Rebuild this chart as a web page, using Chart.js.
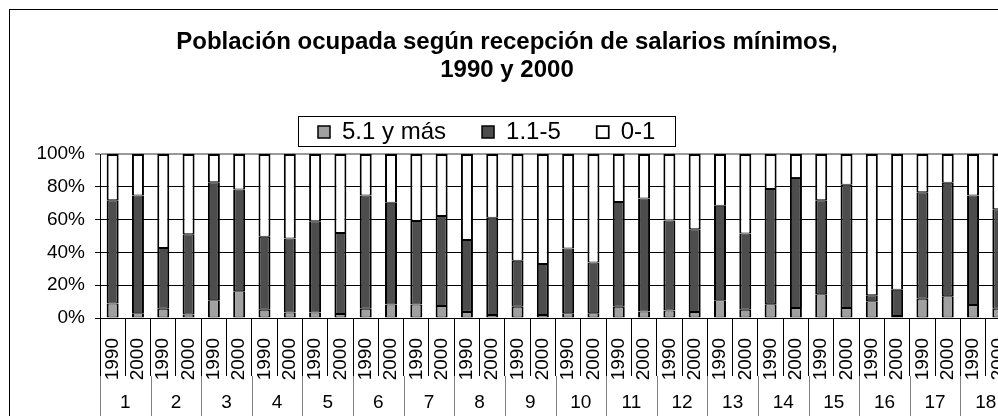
<!DOCTYPE html>
<html lang="es">
<head>
<meta charset="utf-8">
<title>Población ocupada según recepción de salarios mínimos</title>
<script src="https://cdn.jsdelivr.net/npm/chart.js@4/dist/chart.umd.min.js"></script>
<style>
    body { margin: 0; overflow: hidden; background: #fff; }
    #wrap { position: absolute; left: 0; top: 0; width: 998px; height: 416px; overflow: hidden; }
    #salarios { position: absolute; left: 0; top: 0; }
</style>
</head>
<body>
<div id="wrap">
    <canvas id="salarios" width="1014" height="430"></canvas>
</div>
<script>
// groups (1..18), each with a 1990 and a 2000 bar
const groups = ["1", "2", "3", "4", "5", "6", "7", "8", "9", "10", "11", "12", "13", "14", "15", "16", "17", "18"];
const years = ["1990", "2000"];
const yTicks = [0, 20, 40, 60, 80, 100];

// percentages, in bar order (group 1 1990, group 1 2000, group 2 1990, ...)
const mas51 = [8.8, 2.9, 5.7, 2.2, 10.8, 16.3, 5.1, 3.3, 3.3, 2.4, 5.7, 8.2, 8.2, 7.3, 3.7, 1.8, 6.9, 1.8,
    2.9, 2.9, 6.9, 3.9, 4.5, 3.7, 10.8, 5.1, 8.4, 6.1, 14.5, 6.1, 10.2, 1.2, 11.8, 13.3, 8.0, 5.7];
const de11a5 = [63.0, 71.8, 37.0, 48.8, 71.9, 62.1, 44.5, 45.1, 55.7, 49.4, 69.0, 62.0, 51.0, 54.9, 43.9, 59.4, 28.0, 31.1,
    39.5, 31.0, 63.9, 69.0, 54.9, 50.4, 57.6, 46.5, 70.2, 79.2, 57.3, 75.1, 3.7, 16.1, 64.9, 69.1, 66.7, 60.6];
const de0a1 = [28.2, 25.3, 57.3, 49.0, 17.3, 21.6, 50.4, 51.6, 41.0, 48.2, 25.3, 29.8, 40.8, 37.8, 52.4, 38.8, 65.1, 67.1,
    57.6, 66.1, 29.2, 27.1, 40.6, 45.9, 31.6, 48.4, 21.4, 14.7, 28.2, 18.8, 86.1, 82.7, 23.3, 17.6, 25.3, 33.7];

const labels = groups.flatMap(() => years);
const font = "'Liberation Sans', Arial, sans-serif";

// white background + the outer chart frame
const frame = {
    id: "frame",
    beforeDraw(chart) {
        const ctx = chart.ctx;
        ctx.save();
        ctx.fillStyle = "#fff";
        ctx.fillRect(0, 0, chart.width, chart.height);
        ctx.strokeStyle = "#000";
        ctx.lineWidth = 1;
        ctx.strokeRect(9.5, 9.5, 1200, 600);
        ctx.restore();
    }
};

// moves the legend a bit left (as in the original) and draws its box
const legendBox = {
    id: "legendBox",
    afterLayout(chart) {
        const lg = chart.legend;
        const pad = lg.options.labels.padding;
        lg.right = 2 * 318 - lg.left - pad + lg.lineWidths[0];
    },
    afterDraw(chart) {
        const hb = chart.legend.legendHitBoxes;
        if (!hb || !hb.length) return;
        const last = hb[hb.length - 1];
        const left = Math.round(hb[0].left - 20) + 0.5;
        const right = Math.round(last.left + last.width + 20) + 0.5;
        const top = Math.round(hb[0].top - 4) + 0.5;
        const bottom = Math.round(hb[0].top + hb[0].height + 2) + 0.5;
        const ctx = chart.ctx;
        ctx.save();
        ctx.strokeStyle = "#000";
        ctx.lineWidth = 1;
        ctx.strokeRect(left, top, right - left, bottom - top);
        ctx.restore();
    }
};

// second level of the category axis: group numbers and their dividers
const groupAxis = {
    id: "groupAxis",
    afterDraw(chart) {
        const x = chart.scales.x;
        const ctx = chart.ctx;
        const step = x.getPixelForValue(1) - x.getPixelForValue(0);
        const yTop = chart.chartArea.bottom + x.options.grid.tickLength;
        ctx.save();
        ctx.strokeStyle = "#808080";
        ctx.lineWidth = 1;
        ctx.fillStyle = "#000";
        ctx.font = "19px " + font;
        ctx.textAlign = "center";
        ctx.textBaseline = "middle";
        groups.forEach((g, i) => {
            const a = x.getPixelForValue(2 * i);
            const b = x.getPixelForValue(2 * i + 1);
            const edge = Math.round(a - step / 2) + 0.5;
            ctx.beginPath();
            ctx.moveTo(edge, yTop);
            ctx.lineTo(edge, chart.height);
            ctx.stroke();
            ctx.fillText(g, (a + b) / 2, 403);
        });
        ctx.restore();
    }
};

const ctx = document.getElementById("salarios").getContext("2d");

function bars(label, data, color, border) {
    return {
        label: label,
        data: data,
        backgroundColor: color,
        borderColor: "#000",
        borderWidth: border,
        borderSkipped: false,
        inflateAmount: 0,
        categoryPercentage: 1,
        barPercentage: 0.474
    };
}

const chart = new Chart(ctx, {
    type: "bar",
    data: {
        labels: labels,
        datasets: [
            bars("5.1 y más", mas51, "#A0A0A0", { top: 1, bottom: 1, left: 2, right: 2 }),
            bars("1.1-5", de11a5, "#4D4D4D", { top: 1, bottom: 1, left: 2, right: 2 }),
            bars("0-1", de0a1, "#FFFFFF", { top: 2, bottom: 1, left: 2, right: 2 })
        ]
    },
    options: {
        responsive: false,
        animation: false,
        devicePixelRatio: 1,
        layout: { padding: 0 },
        plugins: {
            title: {
                display: true,
                text: ["Población ocupada según recepción de salarios mínimos,", "1990 y 2000"],
                color: "#000",
                font: { family: font, size: 24, weight: "bold", lineHeight: 1.146 },
                padding: { top: 20, bottom: 0 }
            },
            legend: {
                display: true,
                position: "top",
                labels: {
                    color: "#000",
                    font: { family: font, size: 24 },
                    boxWidth: 12,
                    boxHeight: 12,
                    padding: 36
                }
            },
            tooltip: { enabled: false }
        },
        scales: {
            x: {
                stacked: true,
                offset: true,
                grid: {
                    display: true,
                    offset: true,
                    drawOnChartArea: false,
                    drawTicks: true,
                    tickLength: 58,
                    color: "#000",
                    lineWidth: 1
                },
                border: { display: true, color: "#000", width: 1 },
                ticks: {
                    autoSkip: false,
                    minRotation: 90,
                    maxRotation: 90,
                    padding: -38,
                    color: "#000",
                    font: { family: font, size: 19 }
                },
                afterFit(scale) {
                    scale.height = 112;
                    scale.paddingLeft = 0;
                    scale.paddingRight = 3;
                }
            },
            y: {
                stacked: true,
                min: 0,
                max: 100,
                afterBuildTicks(scale) {
                    scale.ticks = yTicks.map(v => ({ value: v }));
                },
                grid: {
                    color: c => c.tick && c.tick.value === 100 ? "#999999" : "#000",
                    lineWidth: c => c.tick && c.tick.value === 100 ? 2 : 1,
                    drawTicks: true,
                    tickLength: 5
                },
                border: { display: true, color: "#000", width: 1 },
                ticks: {
                    padding: 10,
                    color: "#000",
                    font: { family: font, size: 19 },
                    callback: v => v + "%"
                },
                afterFit(scale) {
                    scale.width = 100;
                    scale.paddingTop = 154;
                }
            }
        }
    },
    plugins: [frame, legendBox, groupAxis]
});
</script>
</body>
</html>
